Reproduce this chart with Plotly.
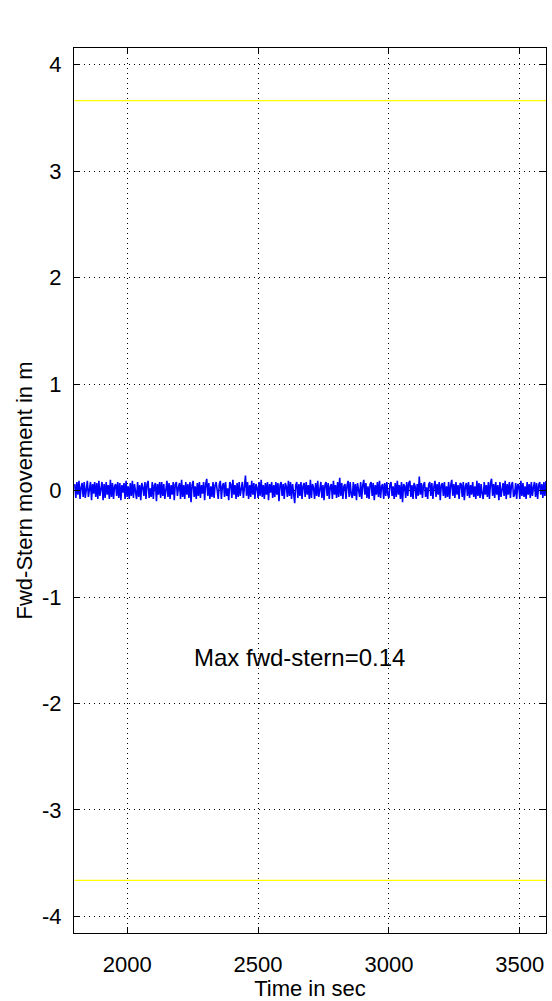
import plotly.graph_objects as go

t_start = 1800
dt = 4
movement_cm = [
    6,-7,8,-4,9,-8,3,7,-6,8,-7,5,9,-6,2,8,-9,6,-3,8,
    -6,7,-8,9,-5,3,8,-9,6,-7,8,-4,5,-8,10,-6,7,-8,4,6,
    -5,8,-7,7,-9,5,-2,7,-8,9,-6,4,-8,7,-5,9,-7,6,-3,-8,
    8,-6,5,-9,7,3,-5,8,-8,6,9,-7,2,-6,8,-8,5,7,-10,6,
    -4,8,-7,8,-5,6,-8,4,9,-6,7,-8,5,-4,8,-9,6,8,-5,3,
    7,-8,10,-6,5,-8,8,-4,6,-7,8,-11,5,9,-6,4,-8,7,-5,8,
    -7,5,-3,8,-9,6,11,-5,7,-8,4,-6,8,-7,5,8,-4,-8,6,9,
    -8,4,7,-6,8,-5,2,-9,8,6,-7,10,-4,5,-8,7,-6,8,-5,4,
    8,-7,6,14,-5,8,-8,5,-6,9,-4,7,-8,6,3,-7,8,-5,10,-6,
    5,-8,7,-4,8,-9,6,-2,8,-7,5,-6,8,-4,7,-10,5,8,-5,6,
    -8,7,4,-6,9,-5,8,-8,6,-4,-12,5,8,-7,6,-5,8,-8,4,7,
    -6,8,-4,5,-8,10,-7,6,3,-8,7,-5,9,-6,2,8,-7,5,-9,6,
    8,-5,7,-8,4,6,-8,9,-4,5,-7,8,-6,12,-5,7,-8,4,6,-8,
    5,9,-6,8,-4,-7,8,-5,6,-9,7,-2,-6,8,-8,5,10,-4,7,-7,
    4,-8,6,8,-5,7,-9,5,-4,8,-6,9,-7,4,6,-8,7,-5,8,-4,
    -7,6,8,-5,4,-8,7,-6,9,-4,5,-8,8,-11,6,4,-7,8,-5,7,
    9,-6,5,-8,7,4,-8,6,-5,13,-4,7,-7,5,8,-6,3,-8,6,8,
    -5,7,-8,4,9,-6,6,-4,8,-9,5,7,-5,8,-7,4,-6,8,-8,5,
    10,-5,6,-7,8,-4,5,-8,7,6,-6,8,-9,4,7,-5,8,-7,5,-4,
    8,-6,4,-8,9,-5,7,-7,6,-3,-8,8,-4,5,-6,8,-8,7,11,-5,
    6,-7,8,-4,5,-9,8,-6,4,7,-5,9,-8,6,-4,8,-7,5,8,-6,
    -4,7,-8,6,5,-8,9,-5,7,-6,4,-8,8,-4,6,-7,8,-5,3,8,
    -6,7,-8,5,8,-4,6,-7,8,-5,9,
]
limit_upper = 3.66
limit_lower = -3.66
x_ticks = [2000, 2500, 3000, 3500]
y_ticks = [-4, -3, -2, -1, 0, 1, 2, 3, 4]
annotation_text = "Max fwd-stern=0.14"
annotation_pos = (2659, -1.57)

time = [t_start + dt * i for i in range(len(movement_cm))]
movement = [v / 100 for v in movement_cm]
t_end = time[-1]

FONT = "Liberation Sans, Arial, sans-serif"

fig = go.Figure()
fig.add_trace(go.Scatter(x=[t_start, t_end], y=[limit_upper, limit_upper], mode="lines",
                         line=dict(color="#ffff00", width=1.2), hoverinfo="skip"))
fig.add_trace(go.Scatter(x=[t_start, t_end], y=[limit_lower, limit_lower], mode="lines",
                         line=dict(color="#ffff00", width=1.2), hoverinfo="skip"))
fig.add_trace(go.Scatter(x=time, y=movement, mode="lines",
                         line=dict(color="#0000ff", width=1.6)))

fig.add_annotation(x=annotation_pos[0], y=annotation_pos[1], text=annotation_text,
                   showarrow=False, font=dict(family=FONT, size=24, color="black"))

axis_common = dict(
    showline=True, linecolor="black", linewidth=1, mirror="ticks",
    ticks="inside", ticklen=6, tickcolor="black", tickwidth=1,
    showgrid=True, gridcolor="black", gridwidth=1, griddash="1px,4px",
    zeroline=False, tickfont=dict(family=FONT, size=22, color="black"),
)

fig.update_xaxes(range=[1797, 3600], tickvals=x_ticks, ticktext=[str(v) for v in x_ticks],
                 ticklabelstandoff=12,
                 title=dict(text="Time in sec", font=dict(family=FONT, size=22, color="black"), standoff=6),
                 **axis_common)
fig.update_yaxes(range=[-4.155, 4.155], tickvals=y_ticks, ticktext=[str(v) for v in y_ticks],
                 ticklabelstandoff=7,
                 title=dict(text="Fwd-Stern movement in m", font=dict(family=FONT, size=22, color="black"), standoff=3),
                 **axis_common)

fig.update_layout(
    width=552, height=1001,
    margin=dict(l=74, r=6, t=48, b=68, autoexpand=False),
    paper_bgcolor="white", plot_bgcolor="white",
    showlegend=False,
)

fig.write_html("out.html", config={"displayModeBar": False},
               post_script="document.body.style.margin='0px';")
